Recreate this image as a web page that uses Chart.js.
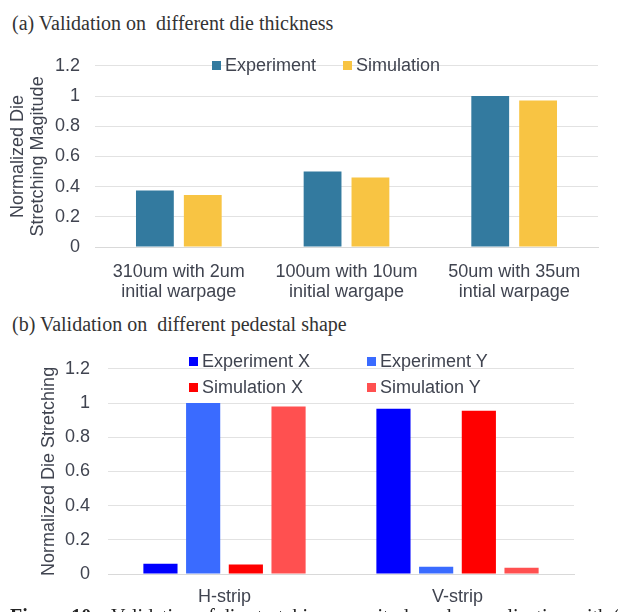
<!DOCTYPE html>
<html>
<head>
<meta charset="utf-8">
<script src="https://cdn.jsdelivr.net/npm/chart.js@4.4.0/dist/chart.umd.min.js"></script>
<style>
  body { margin: 0; background: #fff; width: 618px; height: 612px; overflow: hidden; position: relative; }
  .title { position: absolute; left: 12px; font-family: "Liberation Serif", "Times New Roman", serif; font-size: 20px; line-height: 20px; color: #333; white-space: pre; }
  .caption { position: absolute; left: 10px; top: 606px; font-family: "Liberation Serif", "Times New Roman", serif; font-size: 20px; line-height: 20px; color: #222; white-space: pre; }
  .wrap { position: absolute; left: 0; width: 618px; }
  .legend { position: absolute; font-family: "Liberation Sans", Arial, sans-serif; font-size: 18px; line-height: 18px; color: #404450; }
  #legendA { left: 212px; top: 56px; display: flex; gap: 27px; }
  #legendB { left: 189px; top: 352px; display: grid; grid-template-columns: 178px auto; row-gap: 8px; }
  .item { display: flex; align-items: center; white-space: nowrap; }
  .swatch { width: 9px; height: 9px; margin-right: 4px; }
</style>
</head>
<body>
<div class="title" style="top:13px">(a) Validation on  different die thickness</div>
<div class="wrap" style="top:40px"><canvas id="chartA" width="618" height="265"></canvas></div>
<div class="legend" id="legendA"></div>

<div class="title" style="top:314px">(b) Validation on  different pedestal shape</div>
<div class="wrap" style="top:340px"><canvas id="chartB" width="618" height="272"></canvas></div>
<div class="legend" id="legendB"></div>

<div class="caption"><b>Figure 10.</b>   Validation of die stretching magnitude and normalization with (a)</div>

<script>
// data, chart (a)
const catsA = [["310um with 2um", "initial warpage"], ["100um with 10um", "initial wargape"], ["50um with 35um", "intial warpage"]];
const experimentA = [0.375, 0.5, 1.0];
const simulationA = [0.345, 0.46, 0.97];

// data, chart (b)
const catsB = ["H-strip", "V-strip"];
const expX = [0.06, 0.967];
const expY = [1.0, 0.043];
const simX = [0.055, 0.954];
const simY = [0.98, 0.036];

const yMax = 1.2;
const yStep = 0.2;

const textColor = "#404450";
const gridColor = "#e2e2e2";
const sans = "'Liberation Sans', Arial, sans-serif";

//legend as html, built from the chart's own legend items
function htmlLegend(chart, el) {
  const items = chart.options.plugins.legend.labels.generateLabels(chart);
  items.forEach((it) => {
    const item = document.createElement("div");
    item.classList.add("item");
    const sw = document.createElement("span");
    sw.classList.add("swatch");
    sw.style.background = it.fillStyle;
    const txt = document.createElement("span");
    txt.textContent = it.text;
    item.appendChild(sw);
    item.appendChild(txt);
    el.appendChild(item);
  });
}

function makeScales(yTitle, yWidth, yTitlePad, yTickPad, xHeight, xTickPad) {
  return {
    x: {
      grid: { display: false, drawTicks: false },
      border: { display: true, color: "#d9d9d9" },
      ticks: { color: textColor, font: { family: sans, size: 18, lineHeight: 1.1 }, padding: xTickPad, maxRotation: 0, autoSkip: false },
      afterFit: (s) => { s.height = xHeight; },
    },
    y: {
      min: 0,
      max: yMax,
      grid: { color: gridColor, drawTicks: false },
      border: { display: false },
      ticks: {
        stepSize: yStep,
        color: textColor,
        font: { family: sans, size: 18 },
        padding: yTickPad,
        callback: (v) => String(Number(v.toFixed(1))),
      },
      title: { display: true, text: yTitle, color: textColor, font: { family: sans, size: 18, lineHeight: 1.1 }, padding: { top: yTitlePad, bottom: 0 } },
      afterFit: (s) => { s.width = yWidth; },
    },
  };
}

const chartA = new Chart(document.getElementById("chartA").getContext("2d"), {
  type: "bar",
  data: {
    labels: catsA,
    datasets: [
      { label: "Experiment", data: experimentA, backgroundColor: "#337a9f" },
      { label: "Simulation", data: simulationA, backgroundColor: "#f8c443" },
    ],
  },
  options: {
    responsive: false,
    animation: false,
    categoryPercentage: 0.571,
    barPercentage: 0.79,
    layout: { padding: { top: 15, right: 20, left: 0, bottom: 0 } },
    plugins: { legend: { display: false }, tooltip: { enabled: false } },
    scales: makeScales(["Normalized Die", "Stretching Magitude"], 95, 8, 15, 58, 15),
  },
});

const chartB = new Chart(document.getElementById("chartB").getContext("2d"), {
  type: "bar",
  data: {
    labels: catsB,
    datasets: [
      { label: "Experiment X", data: expX, backgroundColor: "#0000ff" },
      { label: "Experiment Y", data: expY, backgroundColor: "#3a6bff" },
      { label: "Simulation X", data: simX, backgroundColor: "#ff0000" },
      { label: "Simulation Y", data: simY, backgroundColor: "#ff5050" },
    ],
  },
  options: {
    responsive: false,
    animation: false,
    categoryPercentage: 0.733,
    barPercentage: 0.8,
    layout: { padding: { top: 21, right: 44, left: 0, bottom: 0 } },
    plugins: { legend: { display: false }, tooltip: { enabled: false } },
    scales: makeScales("Normalized Die Stretching", 108, 39, 18, 38, 13),
  },
});

htmlLegend(chartA, document.getElementById("legendA"));
htmlLegend(chartB, document.getElementById("legendB"));
</script>
</body>
</html>
